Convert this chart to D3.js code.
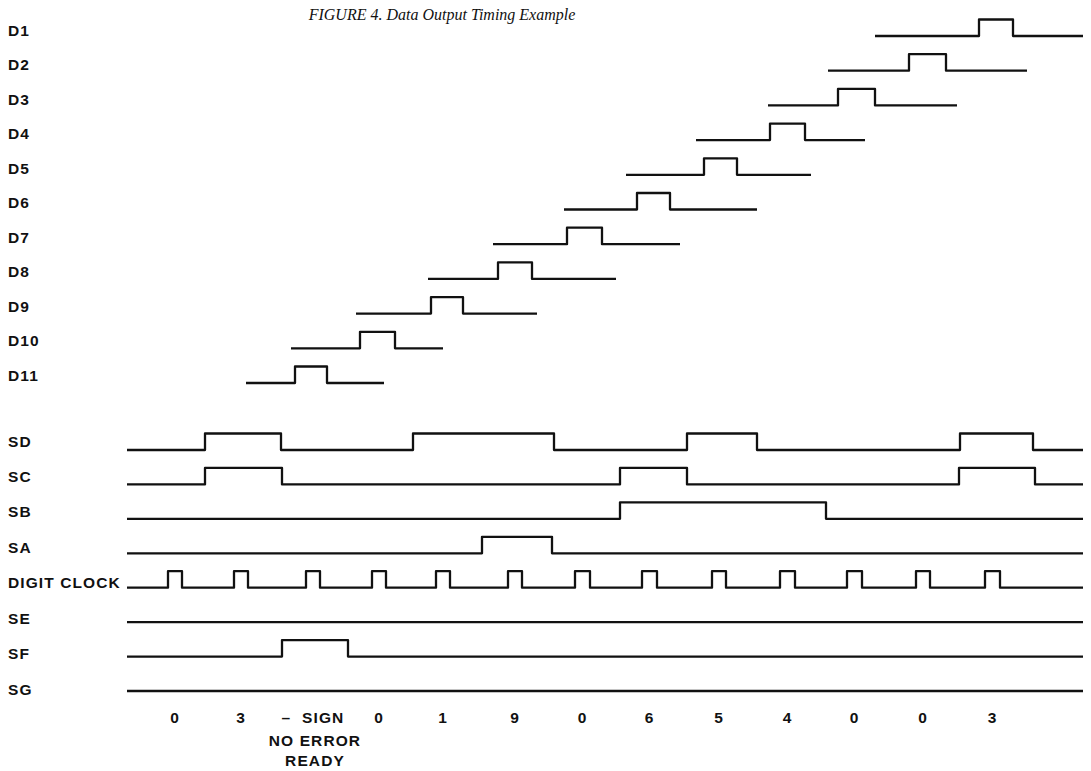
<!DOCTYPE html>
<html><head><meta charset="utf-8">
<script src="https://cdn.jsdelivr.net/npm/d3@7"></script>
<style>body{margin:0;background:#fff}</style>
</head><body>
<svg id="chart" width="1091" height="771"></svg>
<script>
// ---------- data (time axis in arbitrary units) ----------
const title = "FIGURE 4. Data Output Timing Example";

const dataRows  = ["D1","D2","D3","D4","D5","D6","D7","D8","D9","D10","D11"];
const dataStart = [875, 828, 768, 696, 626, 564, 493, 428, 356, 291, 246];
const dataEnd   = [1083, 1027, 957, 865, 811, 757, 680, 616, 537, 443, 384];
const dataRise  = [979, 909, 838, 770, 704, 637, 567, 498, 431, 360, 295];
const dataFall  = [1013, 946, 875, 805, 737, 670, 602, 532, 463, 395, 327];

const signalRows = ["SD","SC","SB","SA","DIGIT CLOCK","SE","SF","SG"];
const signalStart = 127;
const signalEnd = 1083;
const sdPulses = [[205,281],[413,554],[687,757],[960,1033]];
const scPulses = [[205,282],[620,687],[959,1035]];
const sbPulses = [[620,826]];
const saPulses = [[482,552]];
const clockPulses = [[168,182],[234,248],[306,320],[372,386],[436,450],[508,522],
                     [575,590],[642,657],[712,726],[780,795],[847,862],[916,930],[985,1000]];
const sePulses = [];
const sfPulses = [[282,348]];
const sgPulses = [];

const digitLabels = ["0","3","\u2013  SIGN","0","1","9","0","6","5","4","0","0","3"];
const statusLabels = ["NO ERROR","READY"];
const statusDigitIndex = 2;

// ---------- drawing ----------
const svg = d3.select("#chart");
svg.append("rect").attr("width",1091).attr("height",771).attr("fill","#fff");

const x = d3.scaleLinear().domain([0, 1091]).range([0, 1091]);
const yData = d3.scalePoint().domain(dataRows).range([36, 383]);
const yDataLabel = d3.scalePoint().domain(dataRows).range([30, 375]);
const ySig = d3.scalePoint().domain(signalRows).range([450, 691]);
const ySigLabel = d3.scalePoint().domain(signalRows).range([441, 689]);
const level = d3.scaleLinear().domain([0, 1]).range([0, -16.5]);

const line = d3.line().x(d => x(d[0])).y(d => d[1]);

function wave(start, end, pulses, base) {
  const pts = [[start, base + level(0)]];
  pulses.forEach(([r, f]) => {
    pts.push([r, base + level(0)], [r, base + level(1)], [f, base + level(1)], [f, base + level(0)]);
  });
  pts.push([end, base + level(0)]);
  return pts;
}

const ink = "#111";
const labelFont = "'Liberation Sans', Arial, sans-serif";

svg.append("text")
  .attr("x", 442).attr("y", 20)
  .attr("text-anchor", "middle")
  .attr("font-family", "'Liberation Serif', 'Times New Roman', serif")
  .attr("font-style", "italic")
  .attr("font-size", 16)
  .attr("fill", ink)
  .text(title);

const waves = svg.append("g")
  .attr("fill", "none").attr("stroke", ink)
  .attr("stroke-width", 2.3).attr("stroke-linejoin", "round").attr("stroke-linecap", "butt");

dataRows.forEach((name, i) => {
  waves.append("path").attr("d", line(wave(dataStart[i], dataEnd[i], [[dataRise[i], dataFall[i]]], yData(name))));
});

const sigPulses = [sdPulses, scPulses, sbPulses, saPulses, clockPulses, sePulses, sfPulses, sgPulses];
signalRows.forEach((name, i) => {
  waves.append("path").attr("d", line(wave(signalStart, signalEnd, sigPulses[i], ySig(name))));
});

const labels = svg.append("g")
  .attr("font-family", labelFont).attr("font-weight", "bold")
  .attr("font-size", 15.5).attr("fill", ink).attr("letter-spacing", 1.1);

dataRows.forEach(name => {
  labels.append("text").attr("x", 8).attr("y", yDataLabel(name))
    .attr("dominant-baseline", "central").text(name);
});
signalRows.forEach(name => {
  labels.append("text").attr("x", 8).attr("y", ySigLabel(name))
    .attr("dominant-baseline", "central").text(name);
});

clockPulses.forEach(([r, f], i) => {
  labels.append("text").attr("x", x((r + f) / 2)).attr("y", 717)
    .attr("text-anchor", "middle").attr("dominant-baseline", "central")
    .attr("xml:space", "preserve").style("white-space", "pre")
    .text(digitLabels[i]);
});
const sc = clockPulses[statusDigitIndex];
statusLabels.forEach((t, j) => {
  labels.append("text").attr("x", x((sc[0] + sc[1]) / 2) + 2).attr("y", 740 + j * 20)
    .attr("text-anchor", "middle").attr("dominant-baseline", "central")
    .text(t);
});
</script>
</body></html>
